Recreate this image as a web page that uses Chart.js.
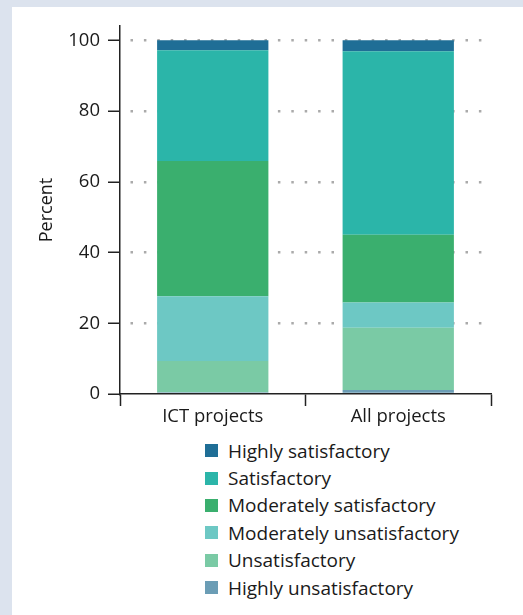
<!DOCTYPE html>
<html>
<head>
<meta charset="utf-8">
<script src="https://cdn.jsdelivr.net/npm/chart.js@4"></script>
<style>
    html, body { margin: 0; padding: 0; background: #dce3ee; }
    #panel { position: absolute; left: 12px; top: 7px; width: 511px; height: 608px; background: #fff; }
    #chartBox { position: absolute; left: 0; top: 0; width: 511px; height: 420px; }
    #legend { position: absolute; left: 193px; top: 430px; font-family: 'Open Sans', sans-serif; font-size: 19px; color: #1a1a1a; }
    .item { display: flex; align-items: center; height: 27.4px; }
    .box { width: 13px; height: 13px; margin-right: 10px; }
</style>
</head>
<body>
<div id="panel">
    <div id="chartBox"><canvas id="chart"></canvas></div>
    <div id="legend"></div>
</div>
<script>
const categories = ['ICT projects', 'All projects'];
const ratingLabels = ['Highly satisfactory', 'Satisfactory', 'Moderately satisfactory',
    'Moderately unsatisfactory', 'Unsatisfactory', 'Highly unsatisfactory'];
const ratingColors = ['#1f6e96', '#2bb5a9', '#3aaf6e', '#6dc8c4', '#7acaa5', '#6b9db5'];

// valores por categoria (ICT, All)
const highlySatisfactory = [2.8, 3.1];
const satisfactory = [31.3, 51.9];
const moderatelySatisfactory = [38.3, 19.1];
const moderatelyUnsatisfactory = [18.3, 7.2];
const unsatisfactory = [8.8, 17.6];
const highlyUnsatisfactory = [0.5, 1.1];

const yTicks = [0, 20, 40, 60, 80, 100];

const seriesValues = [highlySatisfactory, satisfactory, moderatelySatisfactory,
    moderatelyUnsatisfactory, unsatisfactory, highlyUnsatisfactory];

// empilha de baixo pra cima: o primeiro dataset fica embaixo
const datasets = seriesValues.map((vals, i) => ({
    label: ratingLabels[i],
    data: vals,
    backgroundColor: ratingColors[i],
    borderWidth: 0,
    barPercentage: 0.6,
    categoryPercentage: 1
})).reverse();

const font = { family: "'Open Sans', sans-serif", size: 18.5 };

const chart = new Chart(document.getElementById('chart'), {
    type: 'bar',
    data: { labels: categories, datasets },
    options: {
        responsive: true,
        maintainAspectRatio: false,
        animation: false,
        layout: { padding: { top: 17, right: 32, left: 0, bottom: 0 } },
        plugins: { legend: { display: false }, tooltip: { enabled: false } },
        scales: {
            x: {
                stacked: true,
                afterFit: (s) => { s.height = 33; },
                border: { color: '#222', width: 1.5 },
                grid: { drawOnChartArea: false, tickLength: 12, tickColor: '#222', tickWidth: 1.5 },
                ticks: { font, color: '#1a1a1a', padding: 0 }
            },
            y: {
                stacked: true,
                min: 0,
                max: 104,
                afterFit: (s) => { s.width = 108; },
                afterBuildTicks: (s) => { s.ticks = yTicks.map(v => ({ value: v })); },
                border: { color: '#222', width: 1.5, dash: [2.5, 10.9], dashOffset: 3.4 },
                grid: {
                    color: (ctx) => ctx.tick && ctx.tick.value === 0 ? 'rgba(0,0,0,0)' : '#aaa',
                    lineWidth: 2.5,
                    tickLength: 12,
                    tickColor: '#222',
                    tickWidth: 1.5,
                    tickBorderDash: []
                },
                ticks: { font, color: '#1a1a1a', padding: 8 },
                title: { display: true, text: 'Percent', font: { family: "'Open Sans', sans-serif", size: 18 }, color: '#1a1a1a', padding: { top: 24, bottom: 0 } }
            }
        }
    }
});

// legenda em HTML, uma linha por categoria
const legend = document.getElementById('legend');
ratingLabels.forEach((lbl, i) => {
    const row = document.createElement('div');
    row.className = 'item';
    row.innerHTML = `<span class="box" style="background:${ratingColors[i]}"></span><span>${lbl}</span>`;
    legend.appendChild(row);
});
</script>
</body>
</html>
